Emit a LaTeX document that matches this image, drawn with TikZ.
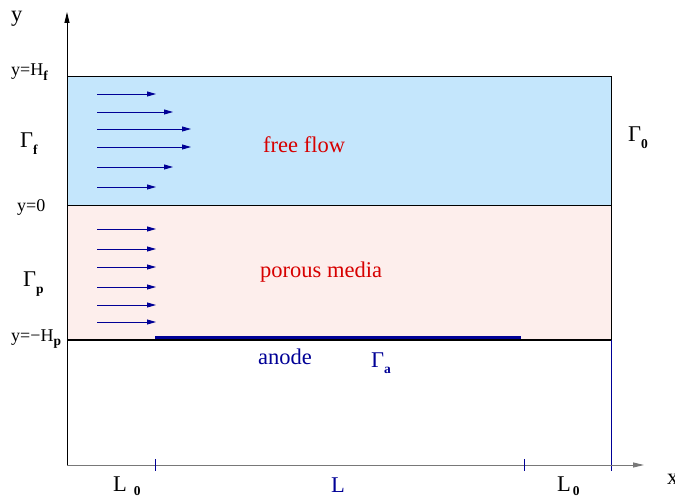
\documentclass[tikz,border=0pt]{standalone}
\usepackage{fontspec}
\setmainfont{Liberation Serif}
\newfontfamily\tnrfont{Liberation Serif}
\usetikzlibrary{arrows.meta}
\definecolor{ffblue}{RGB}{196,230,252}
\definecolor{pmpink}{RGB}{253,238,236}
\definecolor{navyc}{RGB}{0,0,150}
\definecolor{lblred}{RGB}{215,0,0}
\definecolor{axgray}{RGB}{120,120,120}
\newcommand{\lsubs}[2][-0.3em]{\raisebox{#1}{\fontsize{13.5}{14}\selectfont\textbf{#2}}}
\tikzset{
  biglbl/.style={inner sep=0pt, anchor=base west, font=\tnrfont\fontsize{22.5}{25}\selectfont},
  axlbl/.style={inner sep=0pt, anchor=base west, font=\tnrfont\fontsize{18}{20}\selectfont},
  flowarr/.style={navyc, line width=0.8pt, -{Triangle[length=9pt,width=5pt]}},
  axis/.style={line width=0.9pt, -{Triangle[length=11pt,width=5pt]}},
}
\begin{document}
\begin{tikzpicture}[x=1pt,y=-1pt]
\useasboundingbox (0,0) rectangle (675,497);
% regions
\fill[ffblue] (67,76) rectangle (611,205);
\fill[pmpink] (67,205) rectangle (611,340);
% key coordinates
\coordinate (O) at (67,465);
\coordinate (ytop) at (67,12);
\coordinate (xend) at (644,465);
\coordinate (TL) at (67,76);
\coordinate (TR) at (611,76);
\coordinate (ML) at (67,205);
\coordinate (MR) at (611,205);
\coordinate (BL) at (67,340);
\coordinate (BR) at (611,340);
\coordinate (BRlow) at (611,471);
\coordinate (anA) at (155,337);
\coordinate (anB) at (521,337);
\coordinate (t1a) at (155,459);
\coordinate (t1b) at (155,471);
\coordinate (t2a) at (524,459);
\coordinate (t2b) at (524,471);
% box lines
\draw[line width=0.9pt] (TL) -- (TR) -- (BR);
\draw[line width=0.8pt] (ML) -- (MR);
\draw[line width=1.8pt] (BL) -- (BR);
\draw[navyc, line width=0.9pt] (BR) -- (BRlow);
\draw[navyc, line width=3pt] (anA) -- (anB);
% axes
\draw[axis, axgray] (O) -- (xend);
\draw[axis, black] (O) -- (ytop);
\draw[navyc, line width=0.6pt] (t1a) -- (t1b);
\draw[navyc, line width=0.6pt] (t2a) -- (t2b);
% free flow arrows
\foreach \i/\yy/\xx in {1/94/156, 2/112/173, 3/129/191, 4/147/191, 5/167/173, 6/187/156} {
  \coordinate (fs\i) at (97,\yy);
  \coordinate (fe\i) at (\xx,\yy);
  \draw[flowarr] (fs\i) -- (fe\i);
}
% porous arrows
\foreach \i/\yy in {1/229, 2/249, 3/267, 4/287, 5/305, 6/322} {
  \coordinate (ps\i) at (97,\yy);
  \coordinate (pe\i) at (156,\yy);
  \draw[flowarr] (ps\i) -- (pe\i);
}
% labels
\node[biglbl] (ylab) at (11,22) {y};
\node[biglbl] (xlab) at (667,484) {x};
\node[axlbl] (yHf) at (11,76) {y=H\lsubs[-0.25em]{f}};
\node[axlbl] (y0) at (17,212) {y=0};
\node[axlbl] (yHp) at (11,341) {y=−H\lsubs[-0.25em]{p}};
\node[biglbl] (Gf) at (20,148) {Γ\lsubs{f}};
\node[biglbl] (Gp) at (23,287) {Γ\lsubs{p}};
\node[biglbl] (G0) at (628,142) {Γ\lsubs{0}};
\node[biglbl, lblred] (ff) at (263,153) {free flow};
\node[biglbl, lblred] (pm) at (260,277) {porous media};
\node[biglbl, navyc] (an) at (258,364) {anode};
\node[biglbl, navyc] (Ga) at (371,367) {Γ\lsubs{a}};
\node[biglbl] (L0a) at (113,491) {L\hspace{7pt}\lsubs[-0.2em]{0}};
\node[biglbl, navyc] (Ll) at (331,492) {L};
\node[biglbl] (L0b) at (557,491) {L\hspace{2pt}\lsubs[-0.2em]{0}};
\end{tikzpicture}
\end{document}
